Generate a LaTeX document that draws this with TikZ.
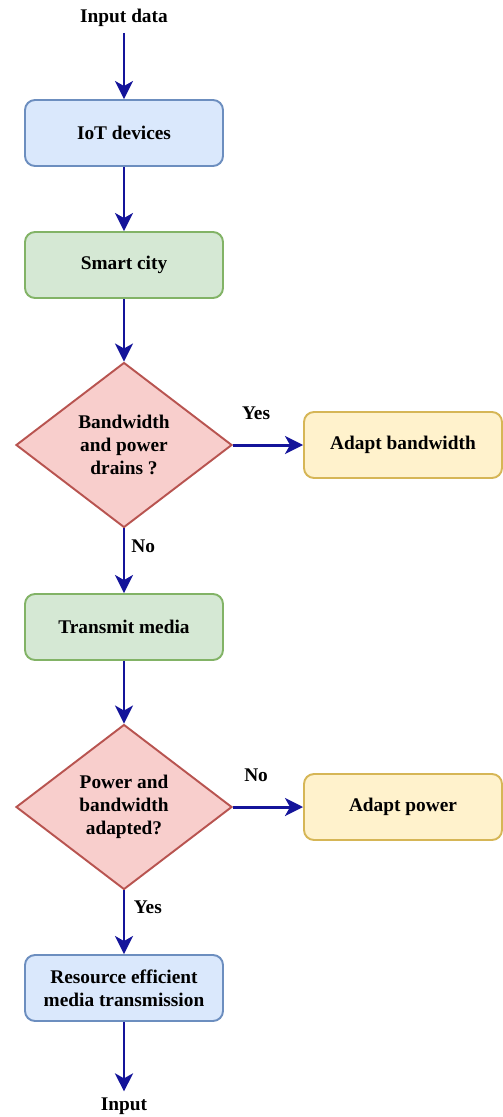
\documentclass[tikz,border=0pt]{standalone}
\usepackage{fontspec}
\setmainfont{Liberation Serif}
\usepackage{tikz}
\usetikzlibrary{arrows.meta,shapes.geometric,positioning}
\usepackage{xcolor}

\definecolor{bluefill}{HTML}{DAE8FC}
\definecolor{blueline}{HTML}{6C8EBF}
\definecolor{greenfill}{HTML}{D5E8D4}
\definecolor{greenline}{HTML}{82B366}
\definecolor{redfill}{HTML}{F8CECC}
\definecolor{redline}{HTML}{B85450}
\definecolor{yellowfill}{HTML}{FFF2CC}
\definecolor{yellowline}{HTML}{D6B656}
\definecolor{flowblue}{HTML}{14149A}

\tikzset{
  txt/.style={font=\fontsize{11}{13}\selectfont\bfseries, align=center},
  box/.style={txt, draw, rounded corners=0.2cm, line width=1.1pt,
              minimum width=3.96cm, minimum height=1.32cm},
  bluebox/.style={box, draw=blueline, fill=bluefill},
  greenbox/.style={box, draw=greenline, fill=greenfill},
  yellowbox/.style={box, draw=yellowline, fill=yellowfill},
  decision/.style={txt, diamond, draw=redline, fill=redfill, line width=1.1pt,
                   inner sep=0pt, aspect=1.31, minimum width=4.32cm, minimum height=3.3cm},
  flow/.style={draw=flowblue, line width=1.7pt,
               -{Stealth[length=0.36cm, width=0.36cm, inset=0.1cm]}},
}

\begin{document}
\begin{tikzpicture}
  \useasboundingbox (0,0) rectangle (10.04,-22.34);

  \node[txt] (in) at (2.48,-0.36) {Input data};
  \node[bluebox] (iot) at (2.48,-2.66) {IoT devices};
  \node[greenbox] (city) at (2.48,-5.30) {Smart city};
  \node[decision] (drain) at (2.48,-8.90) {Bandwidth\\and power\\drains ?};
  \node[yellowbox] (adbw) at (8.06,-8.90) {Adapt bandwidth};
  \node[greenbox] (media) at (2.48,-12.54) {Transmit media};
  \node[decision] (adapted) at (2.48,-16.14) {Power and\\bandwidth\\adapted?};
  \node[yellowbox] (adpow) at (8.06,-16.14) {Adapt power};
  \node[bluebox] (res) at (2.48,-19.76) {Resource efficient\\media transmission};
  \node[txt] (out) at (2.48,-22.12) {Input};

  \draw[flow] (in) -- (iot);
  \draw[flow] (iot) -- (city);
  \draw[flow] (city) -- (drain);
  \draw[flow] (drain) -- (adbw) node[txt, pos=0.33, above=0.35cm] {Yes};
  \draw[flow] (drain) -- (media) node[txt, pos=0.27, right=0cm] {No};
  \draw[flow] (media) -- (adapted);

  % second check
  \draw[flow] (adapted) -- (adpow) node[txt, pos=0.33, above=0.35cm] {No};
  \draw[flow] (adapted) -- (res) node[txt, pos=0.27, right=0.05cm] {Yes};
  \draw[flow] (res) -- (out);
\end{tikzpicture}
\end{document}
